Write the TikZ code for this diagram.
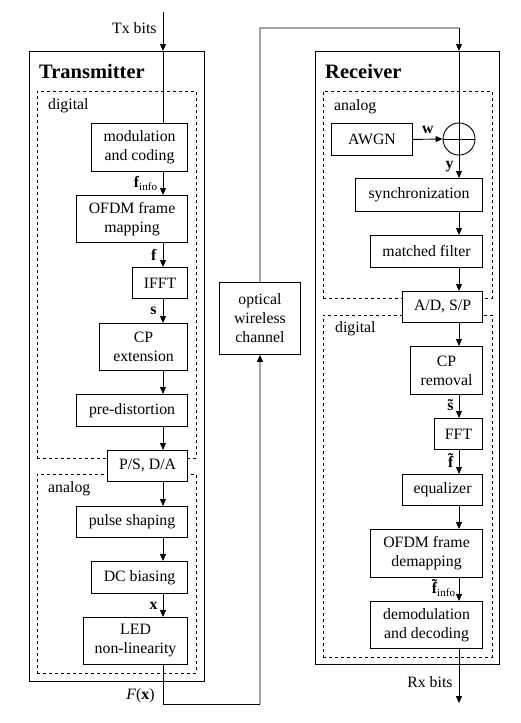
\documentclass[tikz,border=0pt]{standalone}
\usepackage{fontspec}
\setmainfont{Liberation Serif}
\usetikzlibrary{arrows.meta,calc,positioning}
\newcommand{\tildeb}[2][0pt]{\ooalign{\textbf{#2}\cr\hidewidth\raisebox{#1}{\textbf{\char"02DC}}\hidewidth\cr}}
\tikzset{blk/.style={draw, line width=0.9pt, rectangle, fill=white, align=center, inner sep=0pt, font=\fontsize{15.8}{19}\selectfont},
  grp/.style={draw, line width=0.9pt, rectangle, inner sep=0pt},
  area/.style={draw, dashed, line width=0.8pt, rectangle, inner sep=0pt},
  lbl/.style={font=\fontsize{15.8}{19}\selectfont, inner sep=1pt},
  ttl/.style={font=\fontsize{20.5}{24}\selectfont\bfseries, inner sep=0pt, anchor=west},
  wire/.style={line width=0.9pt},
  sig/.style={line width=0.9pt, -{Triangle[length=7pt,width=6pt]}}}

\begin{document}
\begin{tikzpicture}[x=1pt,y=-1pt]
    \useasboundingbox (0,0) rectangle (520,723);
    % signal columns
    \coordinate (txc) at (163,0);
    \coordinate (rxc) at (459,0);
    % transmitter
    \node[grp, minimum width=175pt, minimum height=630pt, anchor=north west] (tx) at (29,51) {};
    \node[area, minimum width=159pt, minimum height=367pt, anchor=north west] (txdig) at (37,91) {};
    \node[area, minimum width=159pt, minimum height=199pt, anchor=north west] (txana) at (37,474) {};
    \node[ttl] (txttl) at (39,71) {Transmitter};
    \node[lbl, anchor=west] (txdiglbl) at (47,106) {digital};
    \node[lbl, anchor=west] (txanalbl) at (47,489) {analog};
    \node[blk, minimum width=96pt, minimum height=48pt, anchor=north east] (mod) at (188,123) {modulation\\and coding};
    \node[blk, minimum width=111pt, minimum height=47pt, anchor=north east] (map) at (188,195) {OFDM frame\\mapping};
    \node[blk, minimum width=55pt, minimum height=31pt, anchor=north east] (ifft) at (188,267) {IFFT};
    \node[blk, minimum width=88pt, minimum height=47pt, anchor=north east] (cpx) at (188,323) {CP\\extension};
    \node[blk, minimum width=111pt, minimum height=32pt, anchor=north east] (pred) at (188,394) {pre-distortion};
    \node[blk, minimum width=80pt, minimum height=31pt, anchor=north east] (psda) at (188,450) {P/S, D/A};
    \node[blk, minimum width=111pt, minimum height=31pt, anchor=north east] (pulse) at (188,506) {pulse shaping};
    \node[blk, minimum width=96pt, minimum height=32pt, anchor=north east] (dcb) at (188,561) {DC biasing};
    \node[blk, minimum width=104pt, minimum height=47pt, anchor=north east] (led) at (188,617) {LED\\non-linearity};
    % channel
    \node[blk, minimum width=81pt, minimum height=72pt, anchor=north west] (chan) at (219,282) {optical\\wireless\\channel};
    % receiver
    \node[grp, minimum width=184pt, minimum height=613pt, anchor=north west] (rx) at (315,51) {};
    \node[area, minimum width=169pt, minimum height=207pt, anchor=north west] (rxana) at (323,91) {};
    \node[area, minimum width=169pt, minimum height=342pt, anchor=north west] (rxdig) at (323,315) {};
    \node[ttl] (rxttl) at (325,71) {Receiver};
    \node[lbl, anchor=west] (rxanalbl) at (333,107) {analog};
    \node[lbl, anchor=west] (rxdiglbl) at (334,329) {digital};
    \node[blk, minimum width=81pt, minimum height=32pt, anchor=north west] (awgn) at (331,123) {AWGN};
    \node[draw, circle, line width=0.9pt, minimum size=32pt, inner sep=0pt] (sum) at (459,139) {};
    \node[blk, minimum width=127pt, minimum height=33pt, anchor=north east] (sync) at (483,178) {synchronization};
    \node[blk, minimum width=112pt, minimum height=32pt, anchor=north east] (mf) at (483,235) {matched filter};
    \node[blk, minimum width=80pt, minimum height=31pt, anchor=north east] (adsp) at (483,291) {A/D, S/P};
    \node[blk, minimum width=72pt, minimum height=48pt, anchor=north east] (cprm) at (483,346) {CP\\removal};
    \node[blk, minimum width=48pt, minimum height=31pt, anchor=north east] (fft) at (483,418) {FFT};
    \node[blk, minimum width=80pt, minimum height=31pt, anchor=north east] (eq) at (483,474) {equalizer};
    \node[blk, minimum width=112pt, minimum height=48pt, anchor=north east] (demap) at (483,529) {OFDM frame\\demapping};
    \node[blk, minimum width=112pt, minimum height=47pt, anchor=north east] (demod) at (483,601) {demodulation\\and decoding};
    % free ends
    \coordinate (txin) at (163,12);
    \coordinate (txout) at (163,704);
    \coordinate (chlow) at (260,704);
    \coordinate (chtop) at (260,28);
    \coordinate (rxtop) at (459,28);
    \coordinate (rxout) at (459,703);
    % transmitter connectors
    \draw[sig] (txin) -- node[lbl, left=5pt, pos=0.4] {Tx bits} (tx.north -| txc);
    \draw[wire] (tx.north -| txc) -- (mod.north -| txc);
    \draw[sig] (mod.south -| txc) -- node[lbl, left=4pt] {\textbf{f}\textsubscript{info}} (map.north -| txc);
    \draw[sig] (map.south -| txc) -- node[lbl, left=5pt] {\textbf{f}} (ifft.north -| txc);
    \draw[sig] (ifft.south -| txc) -- node[lbl, left=5pt] {\textbf{s}} (cpx.north -| txc);
    \draw[sig] (cpx.south -| txc) -- (pred.north -| txc);
    \draw[sig] (pred.south -| txc) -- (psda.north -| txc);
    \draw[sig] (psda.south -| txc) -- (pulse.north -| txc);
    \draw[sig] (pulse.south -| txc) -- (dcb.north -| txc);
    \draw[sig] (dcb.south -| txc) -- node[lbl, left=4pt] {\textbf{x}} (led.north -| txc);
    \draw[wire] (led.south -| txc) -- node[lbl, left=7pt, pos=0.8] {\textit{F}(\textbf{x})} (txout) -- (chlow);
    \draw[sig] (chlow) -- (chan.south);
    \draw[wire] (chan.north) -- (chtop) -- (rxtop);
    % receiver connectors
    \draw[sig] (rxtop) -- (rx.north -| rxc);
    \draw[wire] (rx.north -| rxc) -- (sum.north);
    \draw[wire] (sum.north) -- (sum.south) (sum.west) -- (sum.east);
    \draw[sig] (awgn.east) -- node[lbl, above=4pt] {\textbf{w}} (sum.west);
    \draw[sig] (sum.south) -- node[lbl, left=4pt] {\textbf{y}} (sync.north -| rxc);
    \draw[sig] (sync.south -| rxc) -- (mf.north -| rxc);
    \draw[sig] (mf.south -| rxc) -- (adsp.north -| rxc);
    \draw[sig] (adsp.south -| rxc) -- (cprm.north -| rxc);
    \draw[sig] (cprm.south -| rxc) -- node[lbl, left=4pt] {\tildeb{s}} (fft.north -| rxc);
    \draw[sig] (fft.south -| rxc) -- node[lbl, left=4pt] {\tildeb[0.22em]{f}} (eq.north -| rxc);
    \draw[sig] (eq.south -| rxc) -- (demap.north -| rxc);
    \draw[sig] (demap.south -| rxc) -- node[lbl, left=2pt] {\tildeb[0.22em]{f}\textsubscript{info}} (demod.north -| rxc);
    \draw[sig] (demod.south -| rxc) -- node[lbl, left=5pt, pos=0.62] {Rx bits} (rxout);
\end{tikzpicture}
\end{document}
